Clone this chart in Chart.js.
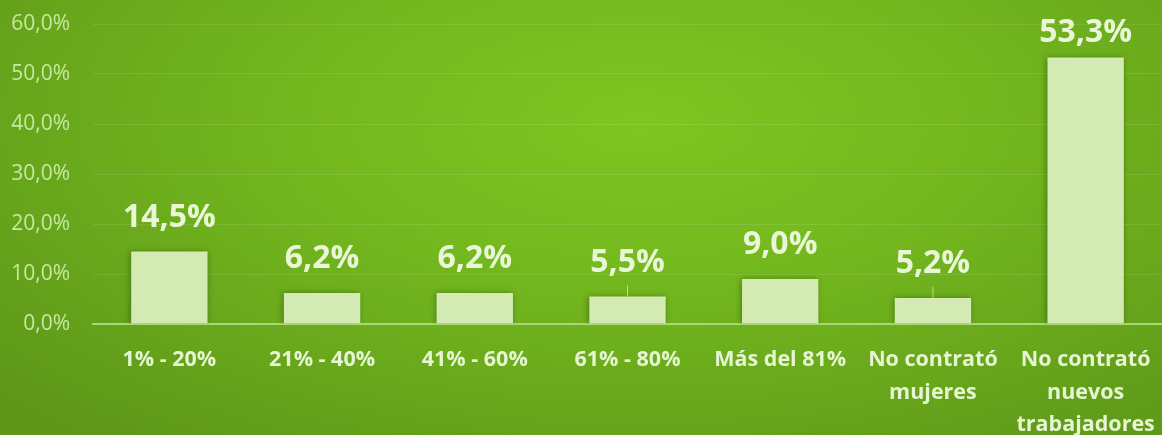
<!DOCTYPE html>
<html>
<head>
<meta charset="utf-8">
<script src="https://cdn.jsdelivr.net/npm/chart.js@4.4.0/dist/chart.umd.min.js"></script>
<style>
  html, body { margin: 0; padding: 0; }
  body {
    width: 1162px; height: 435px; overflow: hidden;
    background: radial-gradient(ellipse 75% 95% at 55% 28%, #7ec621 0%, #73b71e 40%, #5d9619 100%);
  }
  canvas { display: block; }
</style>
</head>
<body>
<canvas id="chart" width="1162" height="435"></canvas>
<script>
const categories = [
    '1% - 20%',
    '21% - 40%',
    '41% - 60%',
    '61% - 80%',
    'Más del 81%',
    ['No contrató', 'mujeres'],
    ['No contrató', 'nuevos', 'trabajadores']
];
const values = [14.5, 6.2, 6.2, 5.5, 9.0, 5.2, 53.3];
const leaderLines = [3, 5];

const fmt = v => v.toFixed(1).replace('.', ',') + '%';

// soft shadow behind the bars
const shadowPlugin = {
    id: 'barShadow',
    beforeDatasetsDraw(chart) {
        const ctx = chart.ctx;
        ctx.save();
        ctx.shadowColor = 'rgba(30,60,0,0.45)';
        ctx.shadowBlur = 6;
        ctx.shadowOffsetX = -1;
        ctx.shadowOffsetY = 0;
    },
    afterDatasetsDraw(chart) {
        chart.ctx.restore();
    }
};

// Data labels above the bars
const labelPlugin = {
    id: 'barLabels',
    afterDatasetsDraw(chart) {
        const ctx = chart.ctx;
        const meta = chart.getDatasetMeta(0);
        ctx.save();
        ctx.font = 'bold 32px "Open Sans"';
        ctx.fillStyle = '#e9f7d6';
        ctx.textAlign = 'center';
        ctx.textBaseline = 'alphabetic';
        meta.data.forEach((bar, i) => {
            let y = bar.y - 25;
            if (y < 42) y = 42;
            ctx.fillText(fmt(values[i]), bar.x, y);
            if (leaderLines.includes(i)) {
                ctx.strokeStyle = 'rgba(220,240,190,0.7)';
                ctx.lineWidth = 1;
                ctx.beginPath();
                ctx.moveTo(bar.x, y + 14);
                ctx.lineTo(bar.x, bar.y);
                ctx.stroke();
            }
        });
        ctx.restore();
    }
};

new Chart(document.getElementById('chart'), {
    type: 'bar',
    data: {
        labels: categories,
        datasets: [{
            data: values,
            backgroundColor: '#d3eab3',
            borderWidth: 0,
            categoryPercentage: 1,
            barPercentage: 0.5
        }]
    },
    options: {
        responsive: false,
        animation: false,
        layout: { padding: { top: 24, right: 0, bottom: 0, left: 0 } },
        plugins: { legend: { display: false }, tooltip: { enabled: false } },
        scales: {
            y: {
                min: 0,
                max: 60,
                ticks: {
                    stepSize: 10,
                    padding: 23,
                    color: '#c6e8a2',
                    font: { family: '"Open Sans"', size: 21 },
                    callback: v => fmt(v)
                },
                grid: { color: 'rgba(255,255,255,0.1)', drawTicks: false },
                border: { display: false },
                afterFit(scale) {
                    scale.width = 93;
                    scale.paddingTop = 0;
                    scale.paddingBottom = 0;
                }
            },
            x: {
                ticks: {
                    color: '#e6f5d2',
                    padding: 20,
                    maxRotation: 0,
                    autoSkip: false,
                    font: { family: '"Open Sans"', size: 21.5, weight: 'bold', lineHeight: 1.5 }
                },
                grid: { display: false, drawTicks: false },
                border: { color: '#a9d77a', width: 2 },
                afterFit(scale) {
                    scale.height = 111;
                    scale.paddingLeft = 0;
                    scale.paddingRight = 0;
                }
            }
        }
    },
    plugins: [shadowPlugin, labelPlugin]
});
</script>
</body>
</html>
